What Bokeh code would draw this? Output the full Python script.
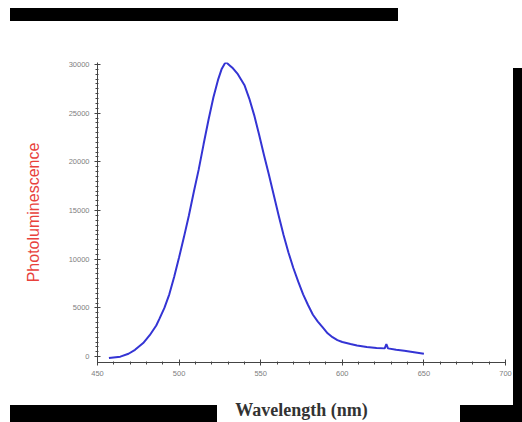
from bokeh.plotting import figure
from bokeh.models import Range1d, FixedTicker
from bokeh.embed import file_html
from bokeh.resources import INLINE

# Data
wavelength = [457, 464, 469, 473, 478, 482, 486, 488, 491, 494, 497, 500, 503, 506, 509, 512,
              515, 518, 521, 524, 526, 528, 529, 531, 533, 536, 540, 543, 546, 549, 552, 555,
              558, 561, 564, 567, 570, 573, 576, 579, 582, 585, 588, 591, 594, 597, 600, 605,
              609, 615, 621, 626, 627, 628, 633, 638, 642, 646, 650]
intensity = [-150, 0, 300, 700, 1400, 2200, 3200, 3900, 5000, 6400, 8200, 10200, 12300, 14500,
             16900, 19200, 21800, 24300, 26600, 28500, 29500, 30100, 30200, 29900, 29600, 29000,
             27900, 26500, 24800, 22800, 20700, 18700, 16600, 14500, 12500, 10700, 9100, 7700,
             6400, 5300, 4300, 3600, 3000, 2400, 2000, 1700, 1500, 1300, 1150, 1000, 900, 850,
             1300, 850, 700, 600, 500, 400, 300]
x_ticks = [450, 500, 550, 600, 650, 700]
y_ticks = [0, 5000, 10000, 15000, 20000, 25000, 30000]

p = figure(width=522, height=422, output_backend="svg", toolbar_location=None,
           x_range=Range1d(450, 700), y_range=Range1d(-600, 30200),
           min_border_left=97, min_border_right=17, min_border_top=62, min_border_bottom=59)
p.outline_line_color = None
p.grid.grid_line_color = None
p.background_fill_color = "white"
p.border_fill_alpha = 0.0

# Black scan-edge bars of the reference, drawn as CSS backgrounds behind the transparent border
rects = [(10, 8, 388, 13), (10, 405, 207, 17), (460, 405, 62, 17), (513, 68, 9, 354)]
p.styles = {
    "background-color": "white",
    "background-image": ", ".join(["linear-gradient(black, black)"] * len(rects)),
    "background-size": ", ".join(f"{w}px {h}px" for _, _, w, h in rects),
    "background-position": ", ".join(f"{x}px {y}px" for x, y, _, _ in rects),
    "background-repeat": "no-repeat",
}

p.line(wavelength, intensity, line_color="#3434d4", line_width=2)

p.xaxis.ticker = FixedTicker(ticks=x_ticks, minor_ticks=list(range(450, 701, 10)))
p.yaxis.ticker = FixedTicker(ticks=y_ticks, minor_ticks=list(range(0, 30001, 500)))

for ax in (p.xaxis[0], p.yaxis[0]):
    ax.axis_line_color = "#444444"
    ax.major_tick_line_color = "#444444"
    ax.minor_tick_line_color = "#444444"
    ax.major_tick_in = 3
    ax.major_tick_out = 3
    ax.minor_tick_in = 1
    ax.minor_tick_out = 2
    ax.major_label_text_font = "Liberation Sans"
    ax.major_label_text_font_size = "7.5px"
    ax.major_label_text_color = "#808080"
    ax.major_label_standoff = 5

p.yaxis.axis_label = "Photoluminescence"
p.yaxis.axis_label_text_font = "Liberation Sans"
p.yaxis.axis_label_text_font_style = "normal"
p.yaxis.axis_label_text_font_size = "16px"
p.yaxis.axis_label_text_color = "#e8413c"
p.yaxis.axis_label_standoff = 24

p.xaxis.axis_label = "Wavelength (nm)"
p.xaxis.axis_label_text_font = "Liberation Serif"
p.xaxis.axis_label_text_font_style = "bold"
p.xaxis.axis_label_text_font_size = "18px"
p.xaxis.axis_label_text_color = "#333333"
p.xaxis.axis_label_standoff = 21

open("out.html", "w").write(file_html(p, INLINE))
